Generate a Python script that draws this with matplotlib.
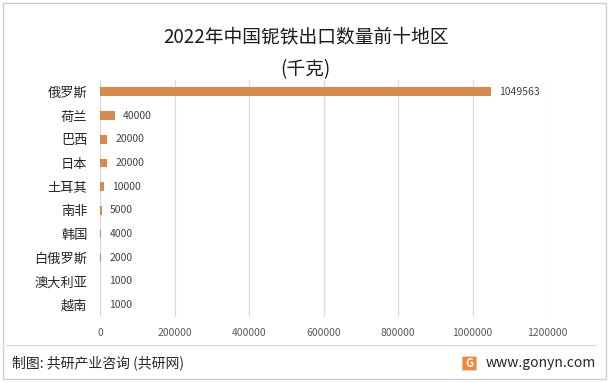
import matplotlib.pyplot as plt
from matplotlib.patches import Rectangle, FancyBboxPatch
from matplotlib.lines import Line2D

plt.rcParams['font.family'] = ['Noto Sans CJK SC', 'DejaVu Sans']

# data
regions = ['俄罗斯', '荷兰', '巴西', '日本', '土耳其', '南非', '韩国', '白俄罗斯', '澳大利亚', '越南']
volumes = [1049563, 40000, 20000, 20000, 10000, 5000, 4000, 2000, 1000, 1000]
x_ticks = [0, 200000, 400000, 600000, 800000, 1000000, 1200000]

title_1 = '2022年中国铌铁出口数量前十地区'
title_2 = '(千克)'
source = '制图: 共研产业咨询 (共研网)'
site = 'www.gonyn.com'

W, H = 611, 383
fig = plt.figure(figsize=(W / 100, H / 100), dpi=100)

ax = fig.add_axes([100 / W, 1 - 317 / H, 447 / W, 237 / H])

ypos = list(range(len(regions)))
ax.barh(ypos, volumes, height=0.37, color='#D68B4D', zorder=3)
for y, v in zip(ypos, volumes):
    ax.annotate(str(v), (v, y), xytext=(6, 0), textcoords='offset points',
                va='center', ha='left', fontsize=7.5, color='#404040')

ax.set_xlim(0, 1200000)
ax.set_ylim(len(regions) - 0.5, -0.5)
ax.set_xticks(x_ticks)
ax.set_xticklabels([str(t) for t in x_ticks])
ax.set_yticks(ypos)
ax.set_yticklabels(regions)
ax.tick_params(axis='x', length=0, pad=8, labelsize=7.5, labelcolor='#595959')
ax.tick_params(axis='y', length=0, pad=9, labelsize=9.5, labelcolor='#262626')
ax.grid(axis='x', color='#D9D9D9', linewidth=0.9, zorder=0)
for s in ax.spines.values():
    s.set_visible(False)

fig.text(0.5, 1 - 37 / H, title_1, ha='center', va='center', fontsize=13.5, color='#1a1a1a')
fig.text(0.5, 1 - 70 / H, title_2, ha='center', va='center', fontsize=13.5, color='#1a1a1a')

# footer
fig.add_artist(Line2D([6 / W, 596 / W], [1 - 345 / H, 1 - 345 / H], color='#D9D9D9', linewidth=0.9))
fig.text(12 / W, 1 - 363 / H, source, ha='left', va='center', fontsize=10, color='#262626')
fig.text(596 / W, 1 - 363 / H, site, ha='right', va='center', fontsize=10, color='#262626')
fig.add_artist(FancyBboxPatch((463 / W, 1 - 370 / H), 13 / W, 13 / H,
                              boxstyle='round,pad=0.001', facecolor='#F0873A', edgecolor='none'))
fig.text(469.5 / W, 1 - 363.5 / H, 'G', ha='center', va='center', fontsize=8, fontweight='bold', color='white')

# outer frame
fig.add_artist(Rectangle((3 / W, 4 / H), 603 / W, 376 / H, fill=False, edgecolor='#D0D0D0', linewidth=1))

fig.savefig('out.png', dpi=100)
